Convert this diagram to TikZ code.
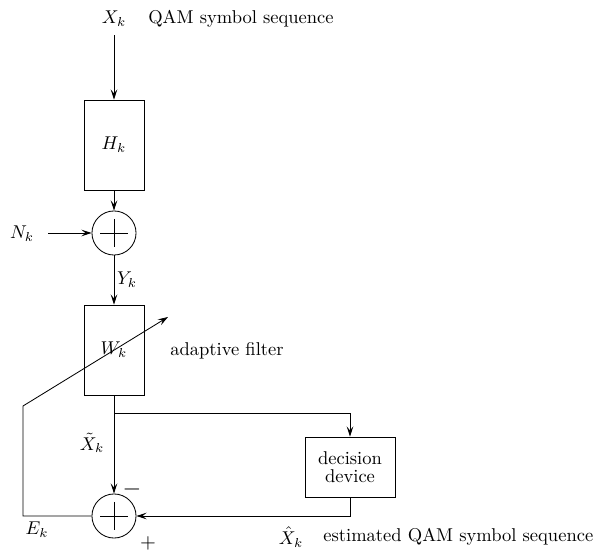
\documentclass[tikz,border=0pt]{standalone}
\usetikzlibrary{arrows.meta,calc}
\begin{document}
\begin{tikzpicture}[x=0.54pt,y=-0.54pt,
  blk/.style={draw,minimum width=32.4pt,minimum height=48.6pt,inner sep=0pt},
  dec/.style={draw,minimum width=48.6pt,minimum height=32.4pt,inner sep=0pt,align=center},
  sumc/.style={draw,circle,minimum size=23.8pt,inner sep=0pt},
  lbl/.style={inner sep=0pt},
  arr/.style={-{Stealth[length=5.5pt,width=3.6pt,inset=2.2pt]}},
  line width=0.45pt]
\useasboundingbox (0,0) rectangle (597,551);
% nodes
\node[lbl] (xk) at (114,19) {$X_k$};
\node[lbl] (qam) at (241,19) {QAM symbol sequence};
\node[blk] (h) at (114,145) {$H_k$};
\node[sumc] (s1) at (114,233) {};
\draw (s1.center) ++(-14,0) -- ++(28,0);
\draw (s1.center) ++(0,-14) -- ++(0,28);
\node[lbl] (nk) at (22,234) {$N_k$};
\node[lbl] (yk) at (127,280) {$Y_k$};
\node[blk] (w) at (114,350) {$W_k$};
\node[lbl] (af) at (227,351) {adaptive filter};
\coordinate (b) at (114,413);
\node[dec] (dd) at (350,467) {decision\\[-2pt]device};
\node[sumc] (s2) at (114,516) {};
\draw (s2.center) ++(-14,0) -- ++(28,0);
\draw (s2.center) ++(0,-14) -- ++(0,28);
\node[lbl] (xt) at (92,443) {$\tilde{X}_k$};
\node[lbl,scale=1.3] (minus) at (132,489) {$-$};
\node[lbl,scale=1.1] (plus) at (148,543) {$+$};
\node[lbl] (ek) at (37,530) {$E_k$};
\node[lbl] (xh) at (291,537) {$\hat{X}_k$};
\node[lbl,anchor=west] (est) at (323,537) {estimated QAM symbol sequence};
\coordinate (c1) at (23,406);
\coordinate (c2) at (168,317);
% connectors
\draw[arr] (xk.south) ++(0,8) -- (h.north);
\draw[arr] (h.south) -- (s1.north);
\draw[arr,shorten <=14pt*0.54] (nk.east |- s1.west) -- (s1.west);
\draw[arr] (s1.south) -- (w.north);
\draw (w.south) -- (b);
\draw[arr] (b) -- (s2.north);
\draw[arr] (b) -| (dd.north);
\draw[arr] (dd.south) |- (s2.east);
\draw[arr] (s2.west) -| (c1) -- (c2);
\end{tikzpicture}
\end{document}
